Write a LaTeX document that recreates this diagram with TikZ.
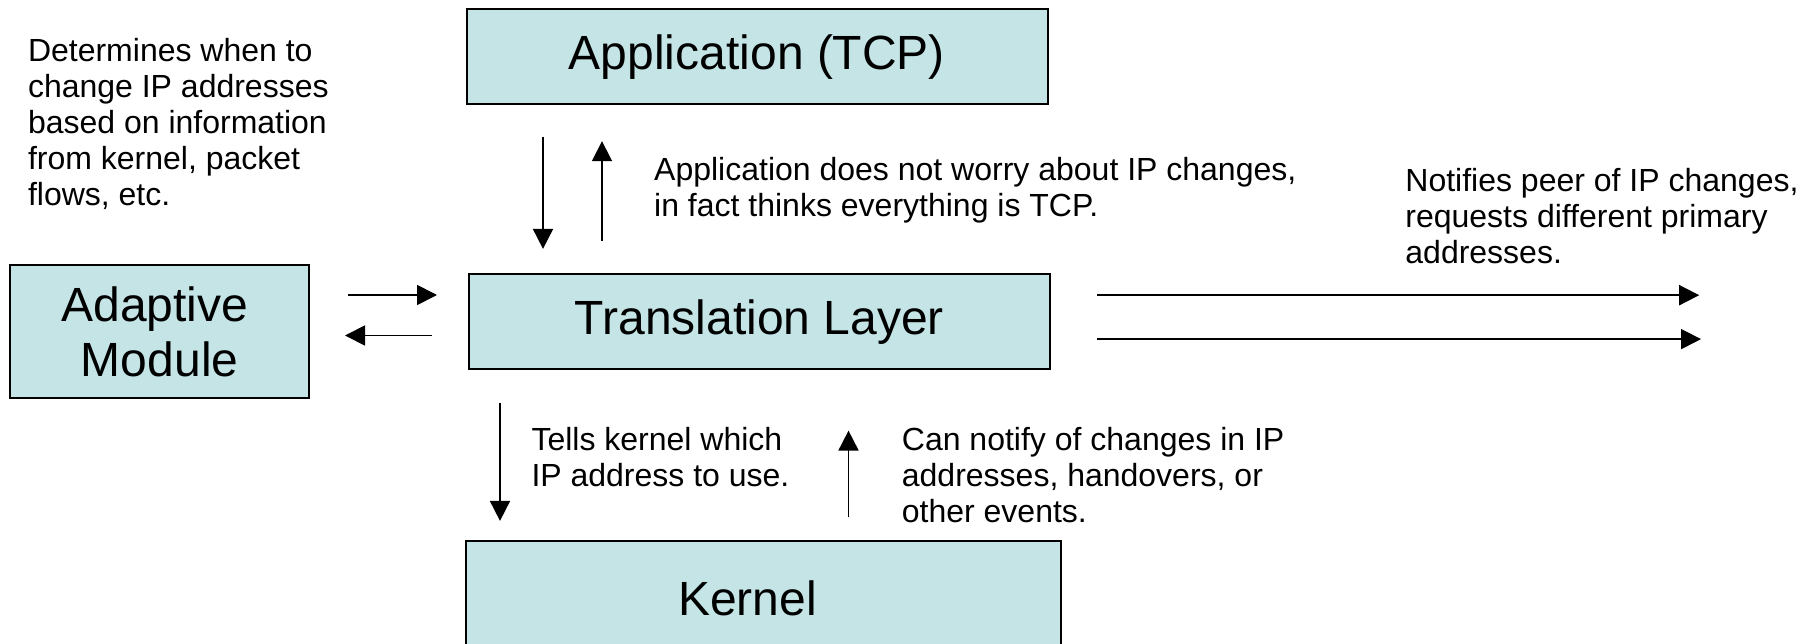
\documentclass[tikz,border=0pt]{standalone}
\usepackage{fontspec}
\setmainfont{Liberation Sans}
\usetikzlibrary{arrows.meta}
\definecolor{boxfill}{RGB}{196,228,230}
\begin{document}
\begin{tikzpicture}[x=1pt,y=-1pt,
  box/.style={draw=black,line width=2pt,fill=boxfill,inner sep=0pt,font=\fontsize{48}{55}\selectfont,align=center},
  note/.style={inner sep=0pt,font=\fontsize{32}{36}\selectfont,align=left,anchor=west},
  arr/.style={line width=1.8pt,-{Triangle[length=20pt,width=20pt]}}]
\useasboundingbox (0,0) rectangle (1815,644);
\clip (0,0) rectangle (1815,644);
\node[box,minimum width=581pt,minimum height=95pt] (app) at (757,56.8) {Application (TCP)};
\node[box,minimum width=581pt,minimum height=95pt] (trans) at (759.4,321.8) {Translation Layer};
\node[box,minimum width=595pt,minimum height=114pt] (kern) at (763.5,598) {Kernel\hspace*{32pt}};
\node[box,minimum width=298.6pt,minimum height=133pt] (adapt) at (159.7,331.5) {Adaptive\hspace*{10pt}\\Module};

\node[note] (n1) at (27.8,124.4) {Determines when to\\change IP addresses\\based on information\\from kernel, packet\\flows, etc.};
\node[note] (n2) at (654,189.8) {Application does not worry about IP changes,\\in fact thinks everything is TCP.};
\node[note] (n3) at (1405.2,216.5) {Notifies peer of IP changes,\\requests different primary\\addresses.};
\node[note] (n4) at (531.3,456.6) {Tells kernel which\\IP address to use.};
\node[note] (n5) at (901.7,474.6) {Can notify of changes in IP\\addresses, handovers, or\\other events.};

\coordinate (a1s) at (543,136.6); \coordinate (a1e) at (543,248.9);
\coordinate (a2s) at (602,240.8); \coordinate (a2e) at (602,141.2);
\coordinate (b1s) at (348.4,295); \coordinate (b1e) at (437,295);
\coordinate (b2s) at (432,335.5); \coordinate (b2e) at (345,335.5);
\coordinate (c1s) at (1097.3,295.2); \coordinate (c1e) at (1699.2,295.2);
\coordinate (c2s) at (1097.3,339.1); \coordinate (c2e) at (1701,339.1);
\coordinate (d1s) at (500,402.8); \coordinate (d1e) at (500,520.9);
\coordinate (d2s) at (848.5,517.4); \coordinate (d2e) at (848.5,430.6);

\draw[arr] (a1s) -- (a1e);
\draw[arr] (a2s) -- (a2e);
\draw[arr] (b1s) -- (b1e);
\draw[arr] (b2s) -- (b2e);
\draw[arr] (c1s) -- (c1e);
\draw[arr] (c2s) -- (c2e);
\draw[arr] (d1s) -- (d1e);
\draw[arr] (d2s) -- (d2e);
\end{tikzpicture}
\end{document}
